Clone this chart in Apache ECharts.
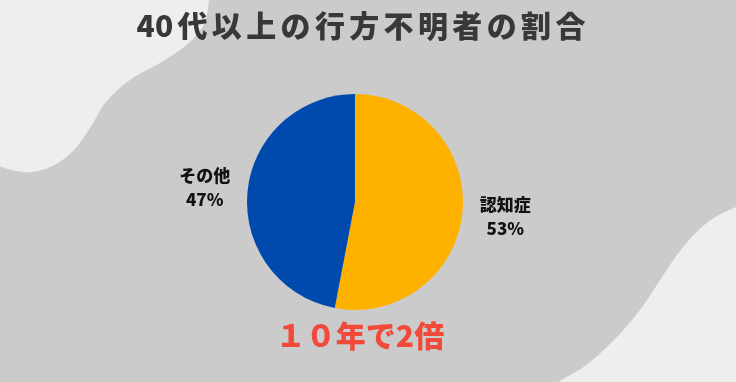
<!DOCTYPE html>
<html>
<head>
<meta charset="utf-8">
<script src="https://cdn.jsdelivr.net/npm/echarts@6/dist/echarts.min.js"></script>
<style>
html,body{margin:0;padding:0;background:#cbcbcb;}
#chart{width:736px;height:382px;}
</style>
</head>
<body>
<div id="chart"></div>
<script>
// Data
var categories = ['認知症', 'その他'];
var values = [53, 47];
var colors = ['#ffb100', '#004aad'];
var titleParts = ['40', '代', '以', '上', 'の', '行', '方', '不', '明', '者', 'の', '割', '合'];
var noteText = '１０年で2倍';

var pieData = categories.map(function (c, i) {
  return { name: c, value: values[i], itemStyle: { color: colors[i] } };
});
var labelData = categories.map(function (c, i) {
  return { name: c, value: values[i] };
});
var titleRich = titleParts.map(function (t) { return '{t|' + t + '}'; }).join('{s| }');

var chart = echarts.init(document.getElementById('chart'), null, { renderer: 'canvas' });
var font = '"Noto Sans CJK JP", "Noto Sans", sans-serif';
chart.setOption({
  backgroundColor: '#cbcbcb',
  animation: false,
  graphic: [
    {
      type: 'polygon', z: -10, silent: true,
      shape: {
        points: [[-60, -60], [212, -60], [209, 0], [204, 24], [190, 42], [165, 60], [130, 80], [106, 102], [90, 128], [72, 152], [48, 168], [22, 172], [-20, 160], [-60, 150]],
        smooth: 0.35
      },
      style: { fill: '#eeeeee' }
    },
    {
      type: 'polygon', z: -10, silent: true,
      shape: {
        points: [[800, 190], [760, 200], [736, 207], [708, 222], [684, 246], [664, 274], [640, 310], [612, 342], [585, 366], [556, 384], [520, 420], [800, 440]],
        smooth: 0.35
      },
      style: { fill: '#eeeeee' }
    },
    {
      type: 'text', x: 361, y: 26, silent: true,
      style: {
        text: titleRich, textAlign: 'center', textVerticalAlign: 'middle',
        rich: {
          t: { fill: '#383838', fontFamily: font, fontWeight: 900, fontSize: 30 },
          s: { fill: '#383838', fontFamily: font, fontWeight: 900, fontSize: 19 }
        }
      }
    },
    {
      type: 'text', x: 360, y: 336, silent: true,
      style: { text: noteText, fill: '#f24a3a', font: '900 30px ' + font, textAlign: 'center', textVerticalAlign: 'middle' }
    }
  ],
  series: [
    {
      type: 'pie',
      center: [355, 202],
      radius: [0, 108],
      startAngle: 90,
      clockwise: true,
      silent: true,
      label: { show: false },
      labelLine: { show: false },
      itemStyle: { borderWidth: 0 },
      data: pieData
    },
    {
      type: 'pie',
      center: [355, 202],
      radius: [140, 156],
      startAngle: 90,
      clockwise: true,
      silent: true,
      itemStyle: { color: 'rgba(0,0,0,0)', borderWidth: 0 },
      labelLine: { show: false },
      label: {
        show: true,
        position: 'inside',
        formatter: function (p) { return p.name + '\n' + p.value + '%'; },
        color: '#111111',
        fontFamily: font,
        fontWeight: 900,
        fontSize: 17,
        lineHeight: 24,
        align: 'center',
        textBorderWidth: 0
      },
      data: labelData
    }
  ]
});
</script>
</body>
</html>
